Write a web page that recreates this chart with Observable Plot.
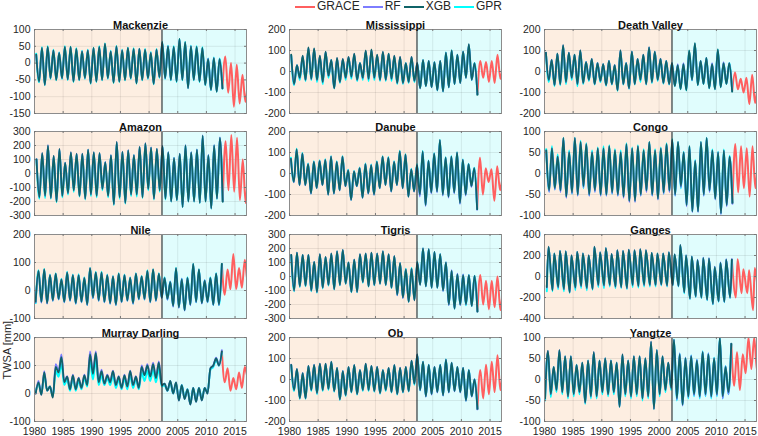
<!DOCTYPE html>
<html><head><meta charset="utf-8">
<script src="https://cdn.jsdelivr.net/npm/d3@7"></script>
<script src="https://cdn.jsdelivr.net/npm/@observablehq/plot@0.6"></script>
<style>
body{margin:0;background:#fff;font-family:"Liberation Sans",Arial,sans-serif}
#root{position:relative;width:758px;height:436px;overflow:hidden;background:#fff}
.panel{position:absolute}
#legend{position:absolute;left:295px;top:0px;height:13px;line-height:13px;display:flex;align-items:center;font-size:12px;color:#262626;white-space:nowrap}
#legend .sw{display:inline-block;width:20px;height:0;border-top:2px solid;margin-right:2px}
#legend .lb{margin-right:3px}
</style>
</head><body><div id="root"><div id="legend"></div></div>
<script>
// ---------------- data ----------------
const basins = ["Mackenzie","Mississippi","Death Valley","Amazon","Danube","Congo","Nile","Tigris","Ganges","Murray Darling","Ob","Yangtze"];
const seriesNames = ["GRACE","RF","XGB","GPR"];
const modelStart = 1980;   // first year of model series (one peak + one trough per year)
const graceStart = 2012;   // first year of GRACE extremes listed below
const splitYear = 2002.25; // GRACE era begins
const xRange = [1980, 2017];
const xTicks = [1980,1985,1990,1995,2000,2005,2010,2015];
const yDomains = [[-150,100],[-200,200],[-200,200],[-300,300],[-200,200],[-100,100],[-100,200],[-300,300],[-400,400],[-100,200],[-200,200],[-100,100]];
const yTickSteps = [50,100,100,100,100,50,100,100,200,100,100,50];
// timing (fraction of year) of the seasonal maximum and minimum
const peakPhase   = [0.3,0.3,0.25,0.35,0.25,0.3,0.7,0.3,0.7,0.7,0.3,0.6];
const troughPhase = [0.8,0.8,0.75,0.85,0.75,0.8,0.2,0.8,0.4,0.2,0.8,0.1];

// XGB yearly maxima / minima, 1980-2012
const xgbPeak = [
 [25,45,48,38,30,48,48,42,35,38,45,48,58,35,50,38,45,42,42,40,30,40,62,50,48,72,62,50,48,45,12,15,12],
 [80,30,75,115,110,75,95,55,65,60,70,85,40,100,105,80,95,85,75,70,40,70,40,55,50,45,50,90,100,80,95,130,40],
 [90,55,85,125,90,80,100,45,60,40,35,50,30,100,40,95,60,80,115,95,60,50,40,30,35,100,135,50,65,35,105,40,40],
 [100,145,200,125,175,75,150,140,140,170,150,145,80,130,225,155,165,130,190,215,185,175,195,150,110,140,200,150,170,270,130,200,255],
 [70,115,95,45,55,60,65,80,55,80,15,10,25,45,40,55,80,75,55,105,90,20,40,105,60,95,160,75,80,100,65,45,25],
 [55,60,40,85,50,85,75,70,50,60,60,65,55,50,70,60,65,55,75,55,60,70,80,75,50,65,30,75,85,55,50,55,40],
 [70,75,55,60,40,65,55,55,45,80,65,65,55,50,60,55,45,60,50,70,75,60,45,30,80,40,45,95,75,35,45,60,95],
 [155,170,155,155,105,160,140,165,180,190,100,120,160,165,170,165,180,160,145,95,50,55,100,200,195,175,160,100,40,15,10,10,5],
 [285,220,245,240,200,235,220,200,285,230,270,215,250,245,255,250,260,250,225,220,220,230,210,300,200,190,155,175,170,90,130,160,160],
 [40,75,25,95,130,60,65,55,65,140,145,80,65,80,60,65,80,60,95,100,105,110,35,45,40,30,15,20,20,20,90,125,150],
 [70,50,30,65,70,75,75,85,55,40,60,70,45,75,65,60,45,55,70,55,60,90,120,85,70,60,70,95,80,60,55,45,0],
 [68,30,70,55,55,35,40,45,65,45,50,45,40,60,45,55,55,50,90,70,55,40,95,60,50,55,45,65,60,50,100,30,85]
];
const xgbTrough = [
 [-55,-65,-45,-50,-45,-48,-55,-50,-45,-60,-55,-50,-45,-58,-55,-50,-45,-60,-50,-45,-62,-42,-45,-50,-55,-50,-75,-50,-55,-65,-80,-85,-75],
 [-60,-30,-40,-35,-40,-50,-20,-80,-50,-30,-25,-40,-30,-35,-30,-40,-40,-35,-55,-55,-50,-45,-80,-70,-75,-90,-95,-75,-60,-55,-30,-40,-110],
 [-40,-65,-60,-50,-30,-60,-55,-40,-60,-45,-65,-60,-90,-60,-80,-60,-40,-60,-50,-40,-55,-60,-70,-85,-90,-40,-65,-60,-80,-85,-75,-60,-95],
 [-170,-160,-175,-200,-160,-140,-120,-160,-180,-150,-160,-110,-160,-220,-170,-210,-150,-150,-170,-110,-180,-120,-180,-200,-190,-240,-200,-200,-210,-200,-250,-180,-200],
 [-40,-55,-55,-95,-70,-55,-100,-95,-80,-60,-125,-60,-115,-95,-100,-70,-55,-85,-55,-70,-110,-85,-100,-150,-90,-85,-100,-110,-90,-140,-100,-60,-170],
 [-40,-35,-40,-55,-45,-50,-30,-50,-40,-50,-50,-45,-50,-55,-65,-65,-50,-40,-50,-60,-45,-40,-50,-30,-75,-90,-90,-50,-40,-60,-95,-75,-70],
 [-40,-40,-45,-35,-30,-40,-35,-45,-40,-50,-25,-35,-40,-45,-50,-40,-35,-45,-30,-30,-40,-35,-25,-30,-55,-60,-70,-50,-40,-45,-40,-50,-50],
 [-100,-70,-65,-100,-110,-80,-60,-90,-60,-50,-110,-110,-40,-70,-60,-50,-60,-80,-130,-150,-180,-170,-60,-70,-80,-80,-100,-200,-230,-200,-200,-210,-250],
 [-100,-130,-100,-120,-150,-105,-90,-110,-120,-80,-85,-80,-95,-100,-110,-80,-90,-80,-80,-80,-75,-85,-80,-90,-150,-210,-190,-200,-220,-260,-235,-240,-200],
 [0,-5,10,-15,75,40,15,15,20,30,70,40,35,40,30,20,25,30,20,65,60,55,30,10,0,-25,-20,-40,-30,-25,0,100,100],
 [-50,-90,-90,-50,-65,-50,-45,-55,-95,-75,-60,-70,-50,-50,-55,-65,-50,-60,-70,-60,-55,-20,-50,-80,-70,-60,-75,-60,-55,-60,-100,-80,-140],
 [-45,-35,-25,-30,-40,-35,-30,-55,-40,-40,-30,-35,-30,-65,-35,-40,-35,-45,-40,-70,-35,-25,-20,-45,-60,-40,-35,-40,-35,-40,-35,-40,-30]
];
// RF yearly maxima / minima, 1980-2012
const rfPeak = [
 [24,44,47,38,30,47,47,41,35,38,44,47,56,35,49,38,44,41,42,39,30,40,60,50,47,70,60,50,47,44,13,15,12],
 [78,30,74,112,108,74,93,55,64,60,70,84,40,98,103,79,93,84,74,69,40,69,40,54,50,45,50,89,98,80,94,128,38],
 [90,56,85,124,90,80,100,46,60,41,35,50,31,100,41,95,60,80,115,95,61,50,40,35,40,95,130,50,65,40,100,45,40],
 [102,146,202,126,176,78,151,141,141,171,151,146,82,131,226,156,166,131,191,216,186,176,196,152,112,142,202,152,172,272,132,202,258],
 [70,114,95,45,55,60,65,80,55,80,15,10,25,45,40,55,80,75,55,104,90,20,40,103,60,93,158,75,80,98,65,45,25],
 [54,59,40,84,50,84,74,69,50,59,59,64,54,50,69,59,64,54,74,54,59,69,79,74,50,64,30,74,84,54,50,54,40],
 [69,74,55,59,40,64,55,55,45,79,64,64,55,50,59,55,45,59,50,69,74,59,45,32,78,42,45,93,74,37,45,59,93],
 [155,170,155,155,105,160,140,165,180,190,100,120,160,165,170,165,180,160,145,95,50,55,100,200,195,175,160,100,45,20,15,10,5],
 [285,220,245,240,200,235,220,200,285,230,270,215,250,245,255,250,260,250,225,220,220,230,210,300,200,190,160,180,175,95,135,165,165],
 [45,80,25,105,140,62,67,57,67,150,150,85,67,82,62,67,82,62,100,105,110,115,35,45,40,30,15,20,20,20,90,128,155],
 [71,50,31,65,71,75,76,85,55,41,60,70,46,75,65,61,45,55,70,56,60,90,119,84,70,61,70,94,80,60,55,45,2],
 [68,30,70,55,55,35,40,45,65,45,50,45,40,60,45,55,55,50,90,70,55,40,95,62,52,57,47,66,62,50,98,32,85]
];
const rfTrough = [
 [-54,-64,-45,-49,-45,-48,-54,-49,-45,-59,-54,-49,-45,-57,-54,-49,-45,-59,-49,-45,-61,-42,-45,-49,-54,-49,-74,-49,-54,-64,-79,-84,-75],
 [-60,-31,-40,-36,-40,-50,-21,-79,-50,-31,-25,-40,-31,-35,-30,-40,-40,-35,-54,-55,-50,-45,-80,-70,-75,-90,-94,-75,-60,-55,-30,-40,-108],
 [-40,-65,-60,-50,-31,-60,-55,-40,-60,-45,-65,-60,-89,-60,-80,-60,-40,-60,-50,-40,-55,-60,-68,-80,-85,-42,-62,-58,-78,-82,-72,-58,-92],
 [-168,-158,-173,-198,-158,-138,-118,-158,-178,-148,-158,-108,-158,-218,-168,-208,-148,-148,-168,-108,-178,-118,-178,-198,-188,-238,-198,-198,-208,-198,-248,-178,-198],
 [-42,-56,-56,-96,-71,-56,-101,-96,-81,-61,-126,-61,-116,-96,-101,-71,-56,-86,-56,-71,-111,-86,-110,-155,-95,-90,-105,-115,-95,-145,-105,-65,-172],
 [-44,-38,-44,-58,-48,-53,-33,-53,-44,-53,-53,-48,-53,-58,-68,-68,-53,-44,-53,-62,-48,-44,-53,-33,-78,-92,-92,-53,-44,-62,-97,-78,-72],
 [-42,-43,-47,-37,-32,-42,-37,-47,-42,-52,-27,-37,-42,-47,-52,-42,-37,-47,-32,-32,-42,-37,-27,-33,-58,-62,-72,-53,-42,-47,-42,-52,-52],
 [-100,-70,-65,-100,-110,-80,-60,-90,-60,-50,-110,-110,-40,-70,-60,-50,-60,-80,-135,-155,-180,-170,-60,-70,-80,-80,-105,-205,-230,-205,-200,-210,-250],
 [-105,-130,-105,-120,-150,-108,-92,-110,-120,-85,-88,-82,-97,-100,-112,-82,-92,-82,-82,-82,-78,-88,-82,-92,-150,-210,-192,-200,-222,-262,-237,-242,-202],
 [0,-5,10,-12,80,42,15,15,20,32,75,42,35,42,30,20,25,30,20,68,62,57,30,10,0,-25,-20,-40,-30,-25,0,100,100],
 [-50,-90,-90,-50,-65,-50,-45,-55,-95,-75,-60,-70,-50,-50,-55,-65,-50,-60,-70,-60,-55,-20,-52,-82,-72,-62,-77,-62,-57,-62,-102,-82,-142],
 [-45,-35,-25,-30,-40,-35,-30,-55,-40,-40,-30,-35,-30,-65,-35,-40,-35,-45,-40,-70,-35,-25,-20,-48,-62,-42,-38,-42,-38,-42,-38,-45,-35]
];
// GPR yearly maxima / minima, 1980-2012
const gprPeak = [
 [28,47,50,40,32,50,49,44,37,40,46,50,58,37,51,40,46,44,43,42,33,42,63,52,50,72,63,52,50,47,14,17,14],
 [75,30,70,110,105,70,90,55,60,55,65,80,40,95,100,75,90,85,70,65,40,65,40,55,50,45,50,90,100,80,95,125,40],
 [88,55,84,122,88,80,98,45,58,40,35,50,30,98,40,94,60,79,113,94,60,50,40,30,35,98,132,50,64,35,103,40,40],
 [100,140,195,120,170,75,145,138,138,168,148,143,80,128,220,153,163,130,188,212,183,173,193,150,110,140,200,150,170,268,130,200,252],
 [75,118,98,48,58,63,68,82,58,82,18,12,28,48,43,58,82,78,58,108,92,23,45,107,62,97,160,77,82,100,67,47,27],
 [58,65,45,85,55,85,78,72,55,62,65,67,58,55,72,62,67,58,75,58,62,72,82,75,52,65,32,75,85,57,52,57,42],
 [72,77,57,62,42,67,57,58,47,80,67,67,57,52,62,57,47,62,52,72,75,62,47,32,80,42,47,95,75,37,47,62,95],
 [150,168,153,153,103,158,138,163,178,188,100,118,158,163,168,163,178,158,143,95,55,60,105,200,195,175,160,100,40,15,10,10,5],
 [280,218,243,238,198,233,218,198,280,228,268,213,248,243,253,248,258,248,223,218,218,228,208,295,198,188,153,173,168,90,130,158,158],
 [35,65,25,80,105,50,55,45,55,115,120,65,55,65,50,55,65,50,75,80,85,90,30,40,35,30,15,20,20,20,85,120,145],
 [68,48,30,63,68,73,73,83,53,40,58,68,45,73,63,58,45,53,68,53,58,88,118,85,70,60,70,95,80,60,55,45,0],
 [65,30,68,55,55,35,40,45,63,45,50,45,40,58,45,55,55,50,88,70,55,40,95,62,52,57,47,67,62,52,100,32,85]
];
const gprTrough = [
 [-57,-66,-47,-51,-47,-50,-56,-51,-47,-61,-56,-51,-47,-59,-56,-51,-47,-61,-51,-47,-63,-44,-47,-51,-56,-51,-74,-51,-56,-66,-80,-85,-76],
 [-65,-40,-45,-40,-50,-60,-30,-80,-55,-40,-35,-45,-40,-45,-40,-45,-45,-45,-60,-60,-55,-50,-80,-70,-75,-90,-95,-75,-60,-55,-30,-40,-110],
 [-50,-70,-65,-60,-40,-70,-60,-45,-62,-50,-68,-62,-92,-62,-82,-62,-50,-62,-55,-45,-58,-62,-70,-85,-90,-42,-65,-60,-80,-85,-75,-60,-95],
 [-180,-175,-180,-205,-170,-150,-130,-165,-185,-160,-170,-120,-170,-225,-180,-215,-160,-165,-175,-120,-185,-130,-185,-200,-190,-240,-200,-200,-210,-200,-250,-180,-200],
 [-40,-55,-55,-95,-70,-55,-100,-95,-80,-60,-125,-60,-115,-95,-100,-70,-55,-85,-55,-70,-110,-85,-100,-150,-90,-85,-100,-110,-90,-140,-100,-60,-170],
 [-42,-38,-42,-55,-48,-52,-35,-52,-42,-52,-52,-48,-52,-55,-65,-65,-52,-42,-52,-60,-48,-42,-52,-35,-75,-90,-90,-52,-42,-60,-95,-75,-70],
 [-45,-42,-45,-37,-32,-42,-37,-47,-42,-52,-27,-37,-42,-47,-52,-42,-37,-47,-32,-32,-42,-37,-27,-32,-55,-60,-70,-50,-42,-45,-42,-52,-52],
 [-105,-75,-70,-105,-115,-85,-65,-92,-62,-52,-112,-112,-45,-72,-62,-52,-62,-82,-132,-150,-180,-165,-55,-70,-80,-80,-100,-200,-230,-200,-205,-210,-250],
 [-140,-140,-120,-140,-155,-130,-110,-130,-125,-100,-110,-95,-110,-110,-120,-100,-105,-95,-95,-95,-85,-95,-85,-95,-160,-215,-195,-205,-225,-265,-240,-245,-205],
 [5,0,10,-10,60,30,10,10,15,25,50,30,30,30,20,15,15,20,15,45,45,40,25,10,0,-20,-15,-35,-25,-20,5,95,100],
 [-55,-92,-92,-55,-70,-55,-50,-58,-97,-78,-62,-72,-55,-55,-58,-68,-55,-62,-72,-62,-57,-25,-52,-80,-70,-60,-75,-60,-55,-60,-100,-80,-140],
 [-50,-42,-30,-35,-45,-40,-35,-58,-45,-45,-35,-40,-35,-65,-40,-45,-40,-50,-45,-70,-40,-30,-25,-50,-60,-45,-40,-45,-40,-45,-40,-45,-35]
];
// GRACE yearly maxima / minima, 2012-2017
const gracePeak = [
 [12,20,0,-5,-35,-60],
 [40,50,45,50,80,20],
 [40,-5,-35,-30,-15,-70],
 [255,230,275,255,100,0],
 [25,75,25,20,35,-20],
 [40,70,65,60,65,30],
 [95,75,130,80,110,60],
 [5,10,-30,-30,0,-100],
 [160,165,70,60,80,0],
 [150,90,55,75,95,70],
 [0,45,70,85,115,30],
 [85,65,60,100,100,50]
];
const graceTrough = [
 [-75,-88,-130,-120,-115,-100],
 [-110,-30,-50,-55,-35,-30],
 [-95,-85,-100,-155,-150,-120],
 [-200,-120,-130,-190,-210,-150],
 [-170,-100,-40,-130,-80,-60],
 [-70,-45,-35,-55,-35,-20],
 [-50,-15,5,5,10,30],
 [-250,-200,-235,-220,-240,-200],
 [-200,-200,-160,-160,-320,-150],
 [100,40,10,15,20,60],
 [-140,-90,-70,-60,-50,-40],
 [-30,-15,-25,15,25,20]
];

// ---------------- styling / layout ----------------
const colors = {GRACE: "#ff5f5f", RF: "#7d7dff", XGB: "#0f6368", GPR: "#00ffff"};
const eraFill = ["#fdeee1", "#e0fdfd"];
const colLeft = [34, 289, 544];
const rowTop = [29, 131, 234, 337];
const frameW = 212, frameH = 84;
const mL = 34, mR = 4, mT = 18, mB = 18;
const FONT = '"Liberation Sans", Arial, Helvetica, sans-serif';

function build(peaks, troughs, y0, pPh, tPh) {
  const pts = peaks.map((v, i) => ({t: y0 + i + pPh, v}))
    .concat(troughs.map((v, i) => ({t: y0 + i + tPh, v})));
  return pts.sort((a, b) => a.t - b.t);
}

const root = document.getElementById("root");

basins.forEach((name, i) => {
  const col = i % 3, row = Math.floor(i / 3);
  const pp = peakPhase[i], tp = troughPhase[i];
  const xgb = build(xgbPeak[i], xgbTrough[i], modelStart, pp, tp);
  const rf = build(rfPeak[i], rfTrough[i], modelStart, pp, tp);
  const gpr = build(gprPeak[i], gprTrough[i], modelStart, pp, tp);
  const lastT = xgb[xgb.length - 1].t;
  const grace = build(gracePeak[i], graceTrough[i], graceStart, pp, tp).filter(d => d.t >= lastT - 1e-6);
  const [y0, y1] = yDomains[i];
  const yTicks = d3.range(y0, y1 + yTickSteps[i] / 2, yTickSteps[i]);
  const eras = [
    {x1: xRange[0], x2: splitYear, fill: eraFill[0]},
    {x1: splitYear, x2: xRange[1], fill: eraFill[1]}
  ];
  const lineOpts = (c, w) => ({x: "t", y: "v", stroke: c, strokeWidth: w, curve: "monotone-x", clip: true, strokeLinejoin: "round"});
  const marks = [
    Plot.rect(eras, {x1: "x1", x2: "x2", fill: "fill"}),
    Plot.ruleX(xTicks, {stroke: "#000", strokeOpacity: 0.08}),
    Plot.ruleY(yTicks, {stroke: "#000", strokeOpacity: 0.08}),
    Plot.line(grace, lineOpts(colors.GRACE, 2)),
    Plot.line(gpr, lineOpts(colors.GPR, 2)),
    Plot.line(rf, lineOpts(colors.RF, 1.8)),
    Plot.line(xgb, lineOpts(colors.XGB, 1.8)),
    Plot.ruleX([splitYear], {stroke: "#262626", strokeWidth: 1.1}),
    Plot.frame({stroke: "#8c8c8c", strokeWidth: 1}),
    Plot.ruleX(xTicks, {stroke: "#777", insetTop: frameH - 2}),
    Plot.ruleX(xTicks, {stroke: "#777", insetBottom: frameH - 2}),
    Plot.ruleY(yTicks, {stroke: "#777", insetLeft: frameW - 2}),
    Plot.ruleY(yTicks, {stroke: "#777", insetRight: frameW - 2}),
    Plot.axisY({ticks: yTicks, tickSize: 0, tickPadding: 4, label: null, tickFormat: d => String(d), fontSize: 10.5, fill: "#262626"}),
    Plot.text([name], {frameAnchor: "top", dy: -8, fontWeight: "bold", fontSize: 11, fill: "#111"})
  ];
  if (row === 3) {
    marks.push(Plot.axisX({ticks: xTicks, tickSize: 0, tickPadding: 6, label: null, tickFormat: d => String(d), fontSize: 10.5, fill: "#262626"}));
  }
  if (name === "Murray Darling") {
    marks.push(Plot.text(["TWSA [mm]"], {frameAnchor: "left", dx: -27, rotate: -90, fontSize: 11, fill: "#262626"}));
  }
  const svg = Plot.plot({
    width: mL + frameW + mR,
    height: mT + frameH + mB,
    marginLeft: mL, marginRight: mR, marginTop: mT, marginBottom: mB,
    x: {domain: xRange, label: null, ...(row === 3 ? {} : {axis: null})},
    y: {domain: yDomains[i], label: null},
    style: {fontFamily: FONT, fontSize: "10.5px", background: "transparent", color: "#262626", overflow: "visible"},
    marks
  });
  svg.classList.add("panel");
  svg.style.left = (colLeft[col] - mL) + "px";
  svg.style.top = (rowTop[row] - mT) + "px";
  root.appendChild(svg);
});

// legend
const legend = document.getElementById("legend");
seriesNames.forEach(n => {
  const sw = document.createElement("span");
  sw.className = "sw";
  sw.style.borderTopColor = colors[n];
  const lb = document.createElement("span");
  lb.className = "lb";
  lb.textContent = n;
  legend.appendChild(sw);
  legend.appendChild(lb);
});
</script>
</body></html>
